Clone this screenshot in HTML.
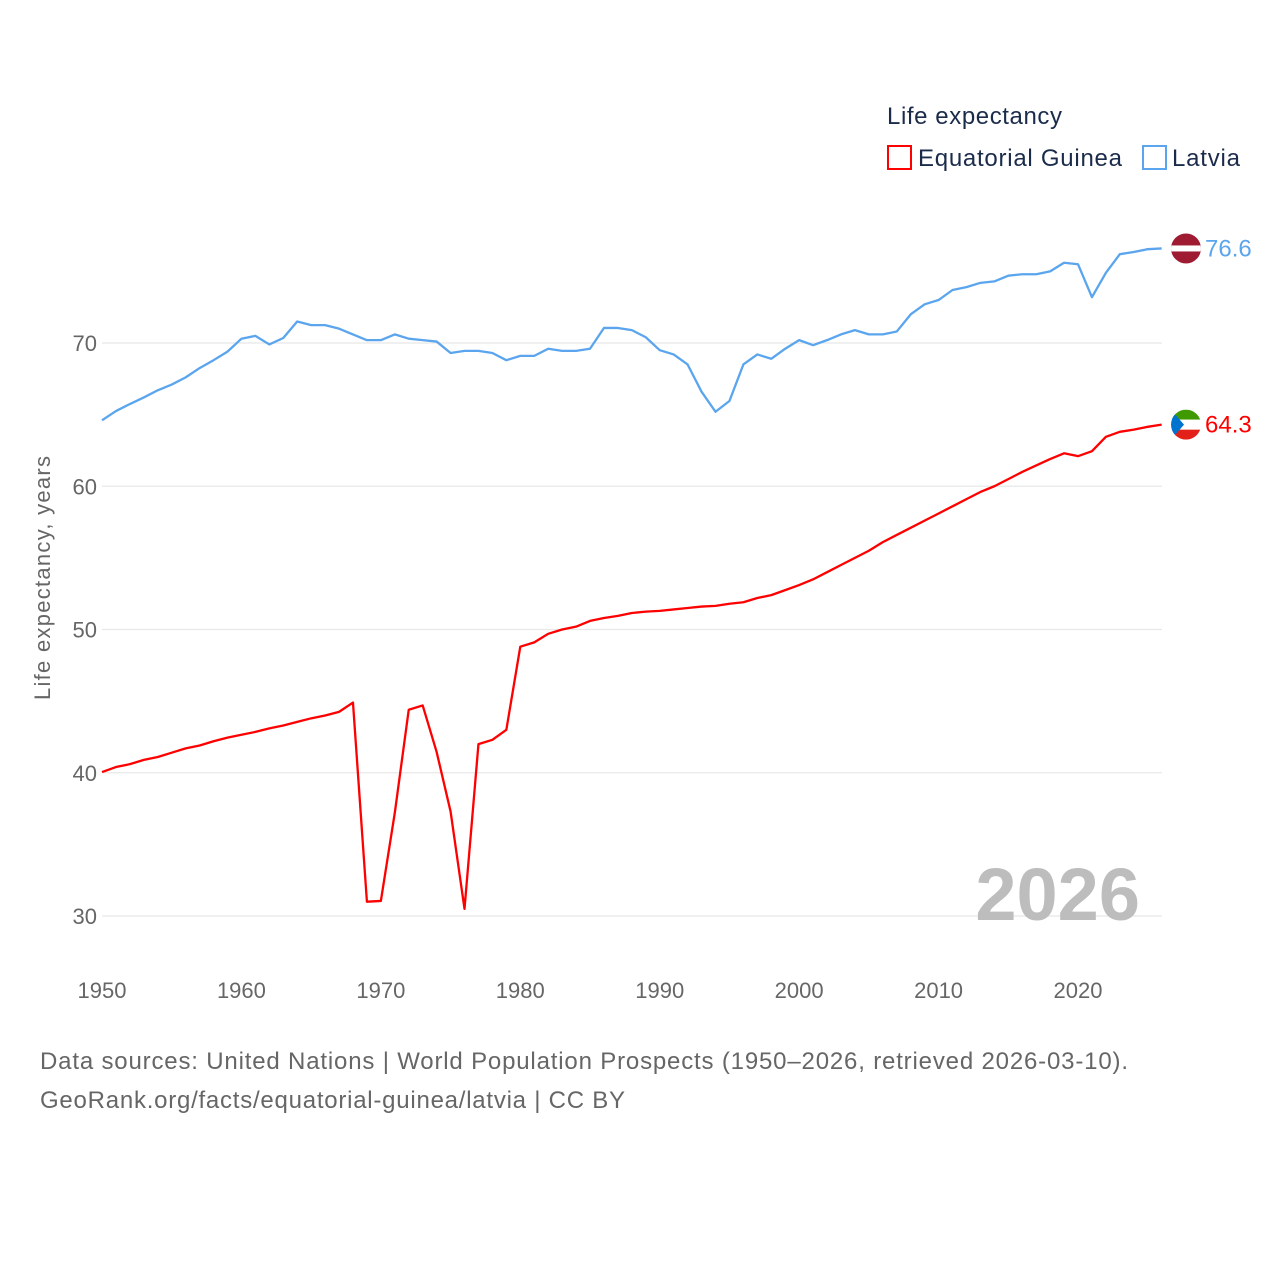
<!DOCTYPE html>
<html><head><meta charset="utf-8"><style>
body{margin:0;background:#fff;}
svg{display:block;font-family:"Liberation Sans",sans-serif;}
</style></head><body>
<svg id="chart" width="1280" height="1280" viewBox="0 0 1280 1280">
<text x="887" y="124" font-size="24" fill="#1b2b4b" textLength="175">Life expectancy</text>
<g>
<rect x="888" y="146" width="23" height="23" fill="none" stroke="#ff0000" stroke-width="2"/>
<text x="918" y="166" font-size="24" fill="#1b2b4b" textLength="204">Equatorial Guinea</text></g>
<g>
<rect x="1143" y="146" width="23" height="23" fill="none" stroke="#5aa5ee" stroke-width="2"/>
<text x="1172" y="166" font-size="24" fill="#1b2b4b" textLength="68">Latvia</text></g>
<g id="grid"></g>
<g id="yticks"></g>
<g id="xticks"></g>
<text transform="translate(50,578) rotate(-90)" text-anchor="middle" font-size="22" fill="#666" textLength="244">Life expectancy, years</text>
<text x="1140" y="920" text-anchor="end" font-size="74" font-weight="bold" fill="#bdbdbd">2026</text>
<g id="series"></g>
<text x="40" y="1069" font-size="24" fill="#666" textLength="1088">Data sources: United Nations | World Population Prospects (1950–2026, retrieved 2026-03-10).</text>
<text x="40" y="1108" font-size="24" fill="#666" textLength="585">GeoRank.org/facts/equatorial-guinea/latvia | CC BY</text>
</svg>
<script>
const years=[];for(let y=1950;y<=2026;y++)years.push(y);
const latvia=[64.6,65.25,65.74,66.2,66.7,67.1,67.6,68.25,68.8,69.4,70.3,70.5,69.9,70.35,71.5,71.25,71.25,71.0,70.6,70.2,70.2,70.6,70.3,70.2,70.1,69.3,69.45,69.45,69.3,68.8,69.1,69.1,69.6,69.45,69.45,69.6,71.05,71.05,70.9,70.4,69.5,69.2,68.5,66.6,65.2,65.95,68.5,69.2,68.9,69.6,70.2,69.85,70.2,70.6,70.9,70.6,70.6,70.8,72.0,72.7,73.0,73.7,73.9,74.2,74.3,74.7,74.8,74.8,75.0,75.6,75.5,73.2,74.9,76.2,76.35,76.55,76.6];
const eqGuinea=[40.05,40.4,40.6,40.9,41.1,41.4,41.7,41.9,42.2,42.45,42.65,42.85,43.1,43.3,43.55,43.8,44.0,44.25,44.9,31.0,31.05,37.2,44.4,44.7,41.45,37.3,30.5,42.0,42.3,43.0,48.8,49.1,49.7,50.0,50.2,50.6,50.8,50.95,51.15,51.25,51.3,51.4,51.5,51.6,51.65,51.8,51.9,52.2,52.4,52.75,53.1,53.5,54.0,54.5,55.0,55.5,56.1,56.6,57.1,57.6,58.1,58.6,59.1,59.6,60.0,60.5,61.0,61.45,61.9,62.3,62.1,62.45,63.45,63.8,63.95,64.15,64.3];
const yTicks=[30,40,50,60,70];
const xTicks=[1950,1960,1970,1980,1990,2000,2010,2020];
const NS="http://www.w3.org/2000/svg";
const X=y=>102+(y-1950)*(976/70);
const Y=v=>343+(70-v)*14.325;
function mk(t,a,p){const e=document.createElementNS(NS,t);for(const k in a)e.setAttribute(k,a[k]);p.appendChild(e);return e;}
const grid=document.getElementById('grid'),yt=document.getElementById('yticks'),xt=document.getElementById('xticks'),ser=document.getElementById('series');
yTicks.forEach(v=>{
 const l=mk('line',{x1:102,x2:1162,y1:Y(v),y2:Y(v),stroke:'#e8e8e8','stroke-width':1.3},grid);
 
 
 const t=mk('text',{x:97,y:Y(v)+8,'text-anchor':'end','font-size':22,fill:'#666'},yt);t.textContent=v;
 
 
});
xTicks.forEach(v=>{
 const t=mk('text',{x:X(v),y:998,'text-anchor':'middle','font-size':22,fill:'#666'},xt);t.textContent=v;
 
 
});
function line(vals,color,name){
 const p=mk('polyline',{points:vals.map((v,i)=>X(years[i])+','+Y(v)).join(' '),fill:'none',stroke:color,'stroke-width':2.3,'stroke-linejoin':'round'},ser);
 
 
}
line(latvia,'#5aa5ee','latvia-line');
line(eqGuinea,'#ff0000','equatorial-guinea-line');
const lv=latvia[latvia.length-1],eg=eqGuinea[eqGuinea.length-1];
const lx=1186;
let g=mk('g',{},ser);


const ly=Y(lv);
const cp1=mk('clipPath',{id:'c1'},g);mk('circle',{cx:lx,cy:ly,r:15},cp1);
mk('rect',{x:lx-15,y:ly-15,width:30,height:30,fill:'#9e1b32','clip-path':'url(#c1)'},g);
mk('rect',{x:lx-15,y:ly-3,width:30,height:6,fill:'#fff','clip-path':'url(#c1)'},g);
let t=mk('text',{x:1205,y:ly+8,'font-size':24,fill:'#5aa5ee'},ser);t.textContent=lv.toFixed(1);


g=mk('g',{},ser);


const ey=Y(eg);
const cp=mk('clipPath',{id:'c2'},g);mk('circle',{cx:lx,cy:ey,r:15},cp);
mk('rect',{x:lx-15,y:ey-15,width:30,height:10,fill:'#3e9a00','clip-path':'url(#c2)'},g);
mk('rect',{x:lx-15,y:ey-5,width:30,height:10,fill:'#fff','clip-path':'url(#c2)'},g);
mk('rect',{x:lx-15,y:ey+5,width:30,height:10,fill:'#e32118','clip-path':'url(#c2)'},g);
mk('polygon',{points:(lx-15)+','+(ey-15)+' '+(lx-2)+','+ey+' '+(lx-15)+','+(ey+15),fill:'#0073ce','clip-path':'url(#c2)'},g);
t=mk('text',{x:1205,y:ey+8,'font-size':24,fill:'#ff0000'},ser);t.textContent=eg.toFixed(1);


</script>
</body></html>
